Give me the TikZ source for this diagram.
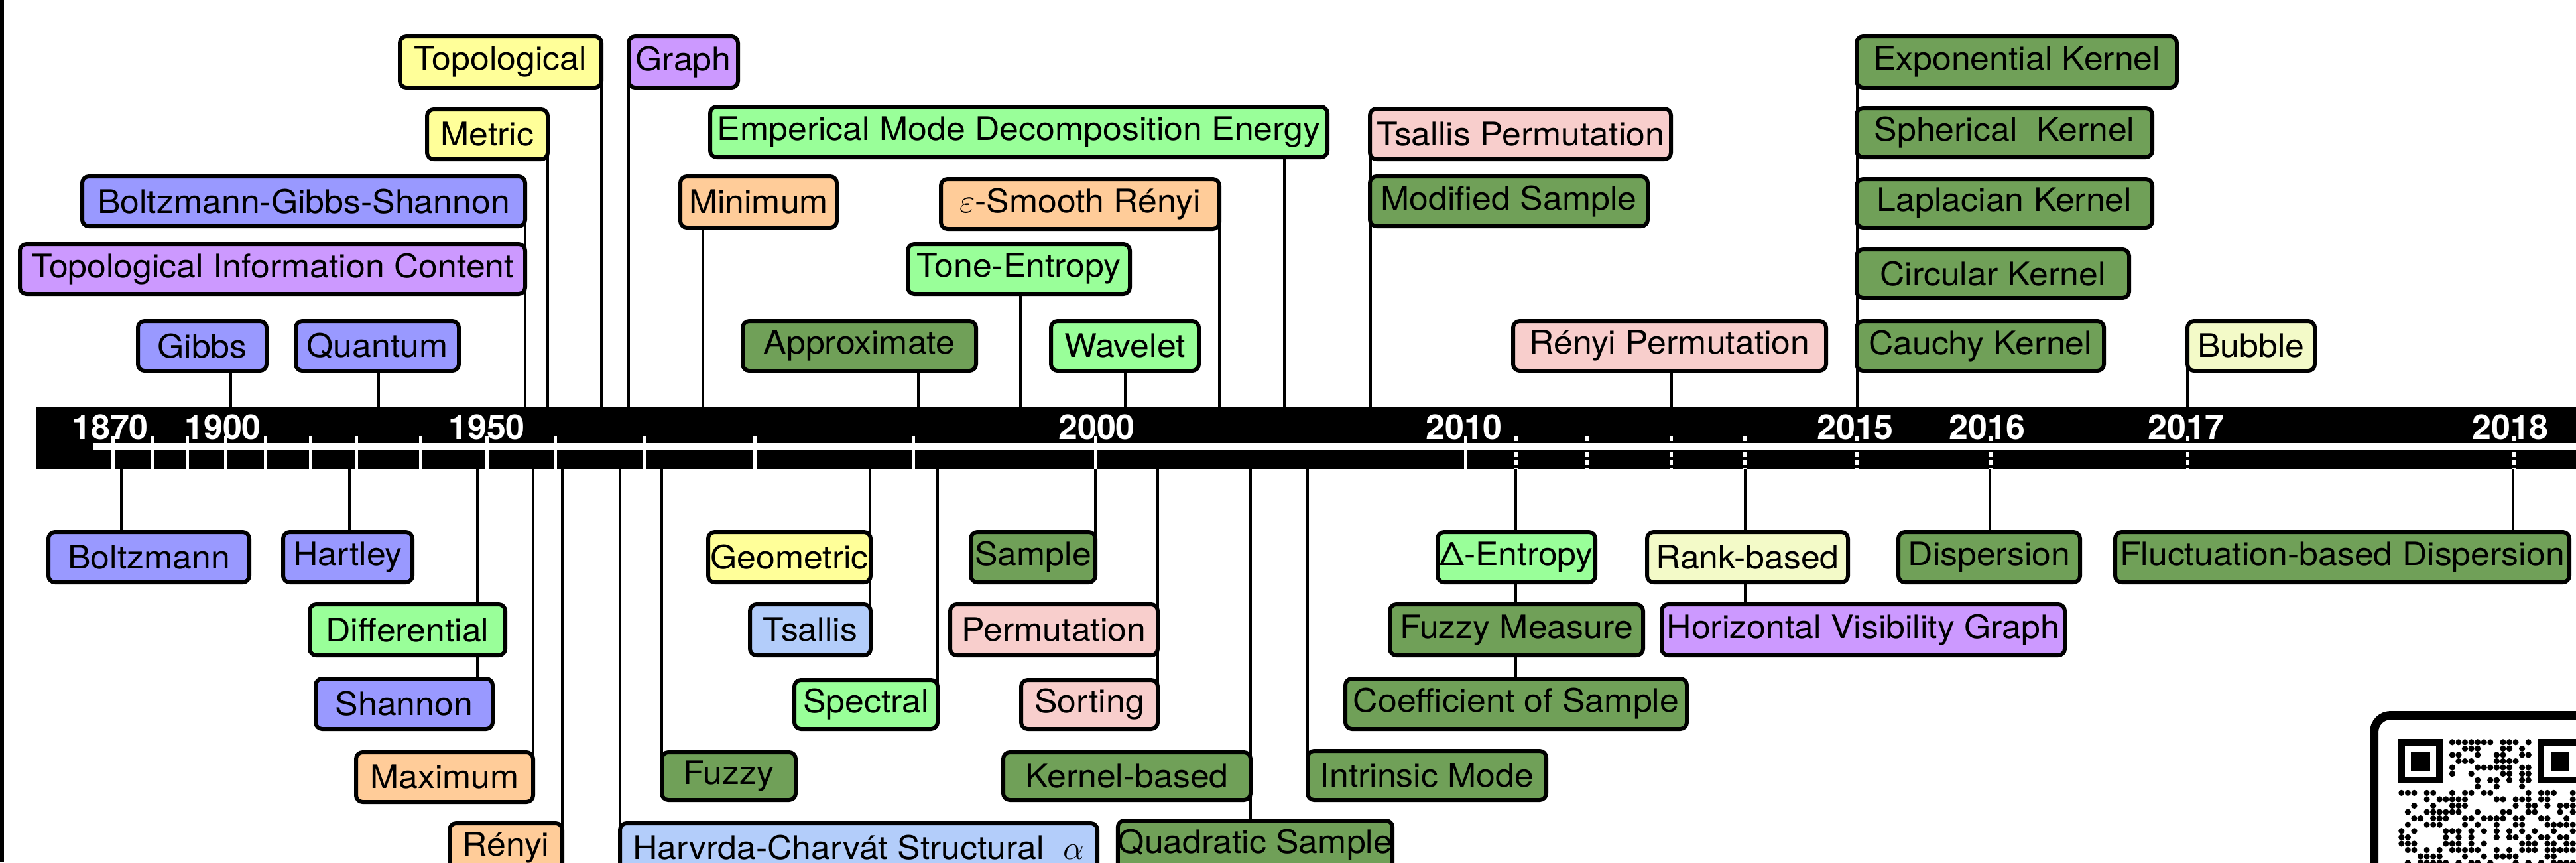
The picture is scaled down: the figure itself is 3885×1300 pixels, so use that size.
\documentclass[tikz,border=0pt]{standalone}
\usepackage{fontspec}
\setmainfont{TeX Gyre Heros}[FakeStretch=1.06]
\newfontfamily\yearfam{TeX Gyre Heros}
\usetikzlibrary{backgrounds}
\definecolor{cblue}{RGB}{153,153,255}
\definecolor{cpurple}{RGB}{204,153,255}
\definecolor{cyellow}{RGB}{255,255,153}
\definecolor{clgreen}{RGB}{153,255,153}
\definecolor{corange}{RGB}{255,204,153}
\definecolor{cdgreen}{RGB}{112,160,88}
\definecolor{cpink}{RGB}{248,206,204}
\definecolor{clblue}{RGB}{179,205,250}
\definecolor{clyellow}{RGB}{243,250,200}
\newcommand\boxfont{\fontsize{13.9pt}{16pt}\selectfont}
\newcommand\yearfont{\yearfam\bfseries\fontsize{14.8pt}{17pt}\selectfont}
\newcommand\mkbox[7]{\node[ebox,fill=#6,minimum width={(#4-#2-6)*0.1mm},minimum height={(#5-#3-6)*0.1mm}] (#1) at ({(#2+#4)/2},{(#3+#5)/2}) {#7};}
\newcommand\conup[3]{\coordinate (#1) at (#2,614); \draw[conn] (#1) -- (#1 |- #3.center);}
\newcommand\condn[3]{\coordinate (#1) at (#2,707); \draw[conn] (#1) -- (#1 |- #3.center);}
\begin{document}
\begin{tikzpicture}[x=0.1mm,y=-0.1mm,
  ebox/.style={draw=black,line width=0.6mm,rounded corners=1mm,inner sep=0pt,outer sep=0pt,font=\boxfont,text=black},
  conn/.style={draw=black,line width=0.45mm},
  yearlbl/.style={text=white,font=\yearfont,inner sep=0pt,anchor=base},
  tickA/.style={draw=white,line width=0.5mm},
  tickB/.style={draw=white,line width=0.5mm,dash pattern=on 0.7mm off 0.5mm}]
\useasboundingbox (0,0) rectangle (3885,1300);
\clip (0,0) rectangle (3885,1300);
% ---------- boxes above the bar ----------
\mkbox{topo}{600}{52}{910}{135}{cyellow}{Topological}
\mkbox{graph}{945}{52}{1116}{135}{cpurple}{Graph}
\mkbox{metric}{641}{162}{829}{243}{cyellow}{Metric}
\mkbox{bgs}{121}{263}{795}{344}{cblue}{Boltzmann-Gibbs-Shannon}
\mkbox{tic}{27}{365}{795}{446}{cpurple}{Topological Information Content}
\mkbox{gibbs}{205}{481}{405}{562}{cblue}{Gibbs}
\mkbox{quantum}{443}{481}{695}{562}{cblue}{Quantum}
\mkbox{minimum}{1023}{263}{1265}{346}{corange}{Minimum}
\mkbox{emde}{1068}{158}{2005}{240}{clgreen}{Emperical Mode Decomposition Energy}
\mkbox{esr}{1416}{267}{1842}{348}{corange}{$\varepsilon$-Smooth Rényi}
\mkbox{tone}{1366}{365}{1707}{446}{clgreen}{Tone-Entropy}
\mkbox{approx}{1117}{481}{1475}{562}{cdgreen}{Approximate}
\mkbox{wavelet}{1582}{481}{1811}{562}{clgreen}{Wavelet}
\mkbox{tsperm}{2063}{161}{2523}{243}{cpink}{Tsallis Permutation}
\mkbox{modsamp}{2063}{263}{2488}{344}{cdgreen}{Modified Sample}
\mkbox{renperm}{2279}{481}{2757}{562}{cpink}{Rényi Permutation}
\mkbox{expk}{2797}{52}{3286}{135}{cdgreen}{Exponential Kernel}
\mkbox{sphk}{2797}{160}{3249}{240}{cdgreen}{Spherical~ Kernel}
\mkbox{lapk}{2797}{267}{3249}{346}{cdgreen}{Laplacian Kernel}
\mkbox{circk}{2797}{373}{3214}{452}{cdgreen}{Circular Kernel}
\mkbox{cauk}{2797}{481}{3176}{562}{cdgreen}{Cauchy Kernel}
\mkbox{bubble}{3296}{481}{3494}{562}{clyellow}{Bubble}
% ---------- boxes below the bar ----------
\mkbox{boltz}{70}{799}{379}{881}{cblue}{Boltzmann}
\mkbox{hartley}{424}{799}{625}{881}{cblue}{Hartley}
\mkbox{diff}{464}{908}{765}{991}{clgreen}{Differential}
\mkbox{shannon}{473}{1020}{746}{1102}{cblue}{Shannon}
\mkbox{maximum}{534}{1131}{807}{1212}{corange}{Maximum}
\mkbox{renyi}{675}{1238}{851}{1318}{corange}{Rényi}
\mkbox{harv}{932}{1238}{1658}{1318}{clblue}{Harvrda-Charvát Structural~ $\alpha$}
\mkbox{fuzzy}{995}{1131}{1203}{1209}{cdgreen}{Fuzzy}
\mkbox{geom}{1065}{799}{1316}{881}{cyellow}{Geometric}
\mkbox{tsallis}{1128}{908}{1316}{991}{clblue}{Tsallis}
\mkbox{spectral}{1195}{1022}{1417}{1102}{clgreen}{Spectral}
\mkbox{sample}{1461}{799}{1655}{881}{cdgreen}{Sample}
\mkbox{perm}{1430}{908}{1749}{991}{cpink}{Permutation}
\mkbox{sorting}{1537}{1022}{1749}{1102}{cpink}{Sorting}
\mkbox{kernb}{1510}{1131}{1889}{1209}{cdgreen}{Kernel-based}
\mkbox{quad}{1697}{1234}{2089}{1314}{cdgreen}{Quadratic Sample}
\mkbox{intr}{1969}{1129}{2335}{1209}{cdgreen}{Intrinsic Mode}
\mkbox{delta}{2165}{799}{2409}{881}{clgreen}{Δ-Entropy}
\mkbox{fuzzym}{2093}{908}{2481}{991}{cdgreen}{Fuzzy Measure}
\mkbox{coef}{2026}{1020}{2547}{1102}{cdgreen}{Coefficient of Sample}
\mkbox{rank}{2481}{799}{2790}{881}{clyellow}{Rank-based}
\mkbox{hvg}{2503}{908}{3117}{991}{cpurple}{Horizontal Visibility Graph}
\mkbox{disp}{2860}{799}{3140}{881}{cdgreen}{Dispersion}
\mkbox{fdisp}{3187}{799}{3878}{881}{cdgreen}{Fluctuation-based Dispersion}
% ---------- year labels ----------
\node[yearlbl] (y1870) at (166,662) {1870};
\node[yearlbl] (y1900) at (336,662) {1900};
\node[yearlbl] (y1950) at (734,662) {1950};
\node[yearlbl] (y2000) at (1654,662) {2000};
\node[yearlbl] (y2010) at (2208,662) {2010};
\node[yearlbl] (y2015) at (2798,662) {2015};
\node[yearlbl] (y2016) at (2997,662) {2016};
\node[yearlbl] (y2017) at (3297,662) {2017};
\node[yearlbl] (y2018) at (3786,662) {2018};
% ---------- QR code ----------
\draw[black,line width=1.3mm,rounded corners=2.5mm] (3580.5,1078.5) rectangle (3990,1450);
\foreach \qx in {3617,3827.5}{
  \fill[black] (\qx,1114) rectangle ++(67,67);
  \fill[white] (\qx+9.57,1123.57) rectangle ++(47.85,47.85);
  \fill[black] (\qx+19.14,1133.14) rectangle ++(28.71,28.71);
}
\pgfmathsetseed{4242}
\foreach \r in {0,...,19}{
  \foreach \c in {0,...,28}{
    \pgfmathtruncatemacro\qin{and(\r<8,or(\c<8,\c>20))}
    \pgfmathtruncatemacro\qon{rnd<0.5}
    \ifnum\qin=0 \ifnum\qon=1
      \fill[black] ({3617+(\c+0.5)*9.57},{1114+(\r+0.5)*9.57}) circle[radius=0.46mm];
    \fi\fi
  }
}
% ---------- background: bar and connectors ----------
\begin{scope}[on background layer]
\fill[white] (0,0) rectangle (3885,1300);
\fill[black] (0,0) rectangle (6,1300);
\fill[black] (54,614) rectangle (3885,707);
\fill[white] (141,668) rectangle (3885,678);
\foreach \tx in {170,230,282,340,400,468,537,634,734,837,972,1138,1377,1652,2210}
  \draw[tickA] (\tx,658) -- (\tx,707);
\foreach \tx in {2286,2393,2520,2631,2800,3002,3299,3791}
  \draw[tickB] (\tx,658) -- (\tx,707);
% connectors above
\conup{aTopo}{907}{topo}
\conup{aGraph}{948}{graph}
\conup{aMetric}{826}{metric}
\conup{aBgs}{792}{bgs}
\conup{aGibbs}{348}{gibbs}
\conup{aQuantum}{571}{quantum}
\conup{aMin}{1060}{minimum}
\conup{aEmde}{1937}{emde}
\conup{aEsr}{1839}{esr}
\conup{aTone}{1539}{tone}
\conup{aApprox}{1385}{approx}
\conup{aWave}{1697}{wavelet}
\conup{aTsp}{2067}{tsperm}
\conup{aRenp}{2521}{renperm}
\conup{aKern}{2801}{expk}
\conup{aBub}{3299}{bubble}
% connectors below
\condn{bBoltz}{183}{boltz}
\condn{bHart}{527}{hartley}
\condn{bShan}{720}{shannon}
\condn{bMax}{804}{maximum}
\condn{bRen}{848}{renyi}
\condn{bHarv}{935}{harv}
\condn{bFuzzy}{998}{fuzzy}
\condn{bTsal}{1312}{tsallis}
\condn{bSpec}{1414}{spectral}
\condn{bSamp}{1652}{sample}
\condn{bSort}{1746}{sorting}
\condn{bQuad}{1886}{quad}
\condn{bIntr}{1972}{intr}
\condn{bCoef}{2286}{coef}
\condn{bHvg}{2632}{hvg}
\condn{bDisp}{3001}{disp}
\condn{bFdisp}{3790}{fdisp}
\end{scope}
\end{tikzpicture}
\end{document}
